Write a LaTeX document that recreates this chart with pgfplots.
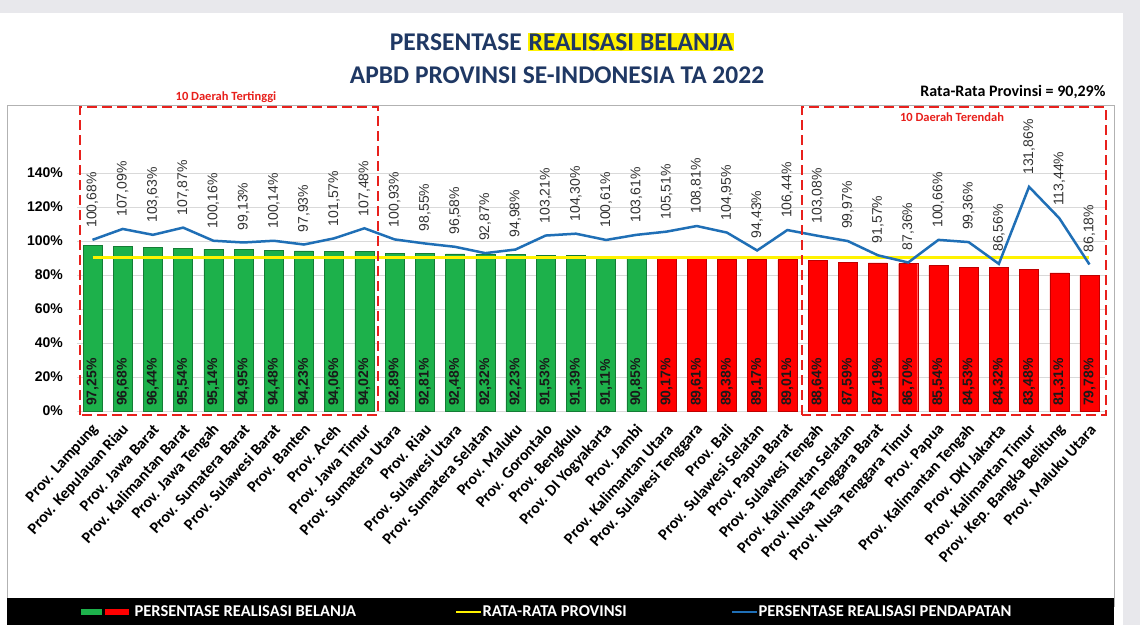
\documentclass[border=0pt]{standalone}
\usepackage{fontspec}
\setmainfont{Carlito}
\newfontfamily\arial{Liberation Sans}
\usepackage{pgfplots}
\usepackage{pgfplotstable}
\pgfplotsset{compat=1.18}

\definecolor{titleblue}{HTML}{1F3864}
\definecolor{barGreen}{HTML}{1DB14B}
\definecolor{barRed}{HTML}{FF0000}
\definecolor{boxRed}{HTML}{E8201C}
\definecolor{lineBlue}{HTML}{1F6FB6}
\definecolor{gridGrey}{HTML}{D9D9D9}
\definecolor{pageGrey}{HTML}{E8E8EC}
\definecolor{labelGrey}{HTML}{333333}

% i = posisi, bel = realisasi belanja, pend = realisasi pendapatan
\pgfplotstableread{
i  bel    pend    zero
0  97.25  100.68  0
1  96.68  107.09  0
2  96.44  103.63  0
3  95.54  107.87  0
4  95.14  100.16  0
5  94.95   99.13  0
6  94.48  100.14  0
7  94.23   97.93  0
8  94.06  101.57  0
9  94.02  107.48  0
10 92.89  100.93  0
11 92.81   98.55  0
12 92.48   96.58  0
13 92.32   92.87  0
14 92.23   94.98  0
15 91.53  103.21  0
16 91.39  104.30  0
17 91.11  100.61  0
18 90.85  103.61  0
19 90.17  105.51  0
20 89.61  108.81  0
21 89.38  104.95  0
22 89.17   94.43  0
23 89.01  106.44  0
24 88.64  103.08  0
25 87.59   99.97  0
26 87.19   91.57  0
27 86.70   87.36  0
28 85.54  100.66  0
29 84.53   99.36  0
30 84.32   86.56  0
31 83.48  131.86  0
32 81.31  113.44  0
33 79.78   86.18  0
}\datatab

\begin{document}
\begin{tikzpicture}[x=1pt,y=1pt]
\fill[pageGrey] (0,0) rectangle (1140,625);
\fill[white] (0,0) rectangle (1123,612);
\draw[gray!60, line width=1pt] (7,19) rectangle (1114,519);
\fill[black] (7,0) rectangle (1114,27);

\node[font=\bfseries\fontsize{25.5}{26}\selectfont, text=titleblue] at (562,583)
  {PERSENTASE \setlength{\fboxsep}{1pt}\colorbox{yellow}{REALISASI BELANJA}};
\node[font=\bfseries\fontsize{25.5}{26}\selectfont, text=titleblue] at (557,550)
  {APBD PROVINSI SE-INDONESIA TA 2022};
\node[font=\bfseries\fontsize{12.5}{13}\selectfont, text=boxRed] at (226,528) {10 Daerah Tertinggi};
\node[font=\bfseries\fontsize{16}{16}\selectfont, anchor=east] at (1109,533) {Rata-Rata Provinsi = 90,29\%};

\begin{axis}[
    at={(77.4pt,214pt)}, anchor=south west,
    scale only axis, width=1027.2pt, height=272pt,
    xmin=-0.5, xmax=33.5, ymin=0, ymax=160,
    clip=false,
    axis line style={draw=none},
    tick style={draw=none},
    ytick={0,20,...,140},
    ymajorgrids, grid style={gridGrey, line width=0.8pt},
    /pgf/number format/assume math mode=true,
    yticklabel={\pgfmathprintnumber{\tick}\%},
    yticklabel style={font=\arial\bfseries\fontsize{14}{14}\selectfont, xshift=-11pt},
    xtick={0,...,33},
    xticklabels={Prov. Lampung, Prov. Kepulauan Riau, Prov. Jawa Barat, Prov. Kalimantan Barat,
      Prov. Jawa Tengah, Prov. Sumatera Barat, Prov. Sulawesi Barat, Prov. Banten, Prov. Aceh,
      Prov. Jawa Timur, Prov. Sumatera Utara, Prov. Riau, Prov. Sulawesi Utara,
      Prov. Sumatera Selatan, Prov. Maluku, Prov. Gorontalo, Prov. Bengkulu,
      Prov. DI Yogyakarta, Prov. Jambi, Prov. Kalimantan Utara, Prov. Sulawesi Tenggara,
      Prov. Bali, Prov. Sulawesi Selatan, Prov. Papua Barat, Prov. Sulawesi Tengah,
      Prov. Kalimantan Selatan, Prov. Nusa Tenggara Barat, Prov. Nusa Tenggara Timur,
      Prov. Papua, Prov. Kalimantan Tengah, Prov. DKI Jakarta, Prov. Kalimantan Timur,
      Prov. Kep. Bangka Belitung, Prov. Maluku Utara},
    xticklabel style={font=\bfseries\fontsize{16}{16}\selectfont, xshift=4pt, yshift=-15pt,
      rotate=48, anchor=east, inner sep=1pt},
  ]
  % batang hijau / merah
  \addplot[ybar, bar width=19pt, fill=barGreen, draw=barGreen!70!black, line width=0.4pt,
    restrict x to domain=0:18] table[x=i, y=bel] {\datatab};
  \addplot[ybar, bar width=19pt, fill=barRed, draw=barRed!75!black, line width=0.4pt,
    restrict x to domain=19:33] table[x=i, y=bel] {\datatab};
  % rata-rata provinsi
  \addplot[yellow, line width=3pt] coordinates {(0,90.29) (33,90.29)};
  % realisasi pendapatan
  \addplot[lineBlue, line width=2.5pt, mark=none,
    nodes near coords={\pgfmathprintnumber[fixed, fixed zerofill, precision=2, use comma]{\pgfplotspointmeta}\%},
    nodes near coords style={rotate=90, anchor=west, inner sep=0pt, xshift=11pt,
      font=\arial\fontsize{14}{14}\selectfont, text=labelGrey}]
    table[x=i, y=pend] {\datatab};
  % label batang
  \addplot[draw=none, mark=none, point meta=\thisrow{bel},
    nodes near coords={\pgfmathprintnumber[fixed, fixed zerofill, precision=2, use comma]{\pgfplotspointmeta}\%},
    nodes near coords style={rotate=90, anchor=west, inner sep=0pt, xshift=5pt,
      font=\arial\bfseries\fontsize{14}{14}\selectfont, text=black!90}]
    table[x=i, y=zero] {\datatab};
  % kotak 10 tertinggi / terendah
  \draw[boxRed, line width=2.5pt, dash pattern=on 10pt off 5pt]
    (axis cs:-0.41,-2.35) rectangle (axis cs:9.45,178.8);
  \draw[boxRed, line width=2.5pt, dash pattern=on 10pt off 5pt]
    (axis cs:23.49,-2.35) rectangle (axis cs:33.55,178.8);
\end{axis}

\node[font=\bfseries\fontsize{12.5}{13}\selectfont, text=boxRed] at (952,508) {10 Daerah Terendah};

% legenda
\fill[barGreen] (81,10) rectangle (102,16);
\fill[barRed] (105,10) rectangle (129,16);
\node[anchor=west, text=white, font=\bfseries\fontsize{16.5}{16}\selectfont] at (131,13.5) {PERSENTASE REALISASI BELANJA};
\draw[yellow, line width=2.5pt] (456,13) -- (481,13);
\node[anchor=west, text=white, font=\bfseries\fontsize{16.5}{16}\selectfont] at (479,13.5) {RATA-RATA PROVINSI};
\draw[lineBlue, line width=2.5pt] (732,13) -- (757,13);
\node[anchor=west, text=white, font=\bfseries\fontsize{16.5}{16}\selectfont] at (755,13.5) {PERSENTASE REALISASI PENDAPATAN};
\end{tikzpicture}
\end{document}
